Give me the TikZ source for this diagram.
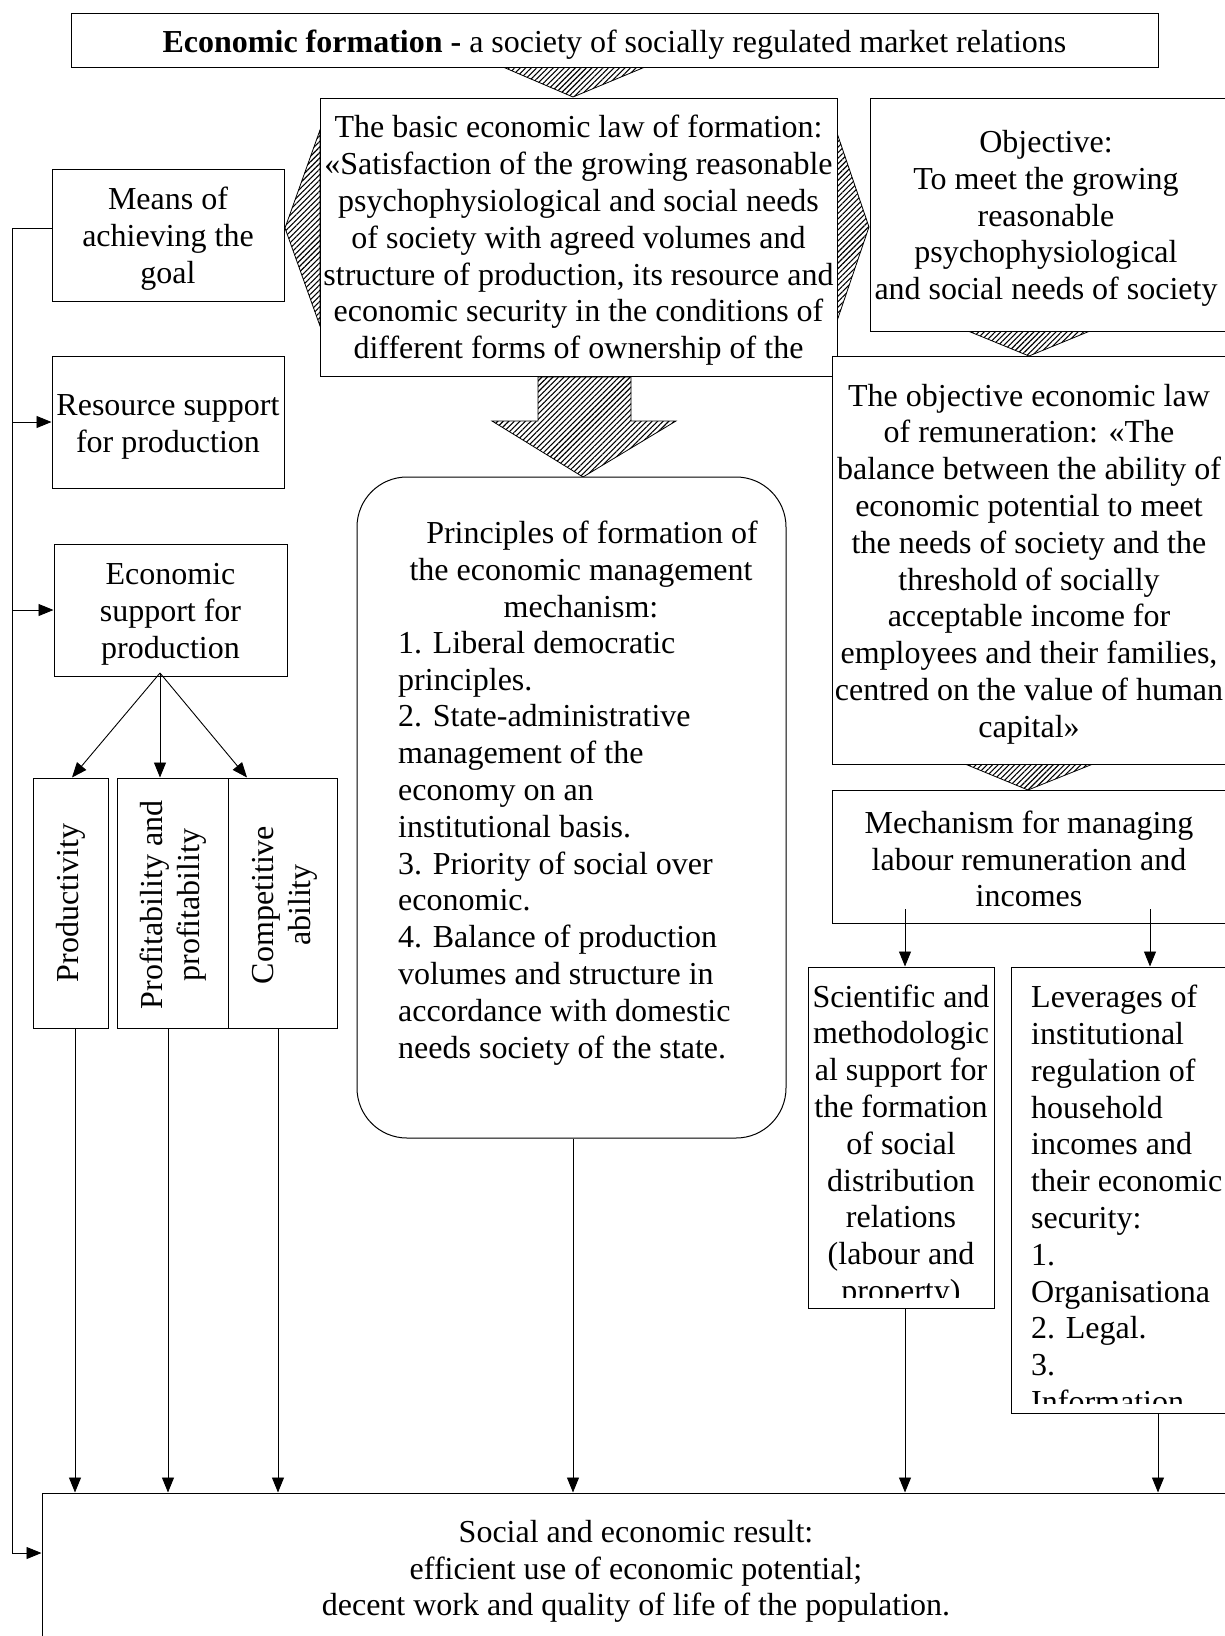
\documentclass[tikz,border=0pt]{standalone}
\usepackage{fontspec}
\setmainfont{Liberation Serif}
\usetikzlibrary{arrows.meta,patterns.meta}
\newcommand\myfs{\fontsize{32}{36.8}\selectfont}
\begin{document}
\begin{tikzpicture}[x=1pt,y=-1pt,
  box/.style={draw=black, line width=1pt, fill=white, inner sep=0pt},
  txt/.style={inner sep=0pt, font=\myfs, align=center},
  hatch/.style={draw=black, line width=0.8pt, pattern={Lines[angle=45,distance=3.9pt,line width=1.1pt]}},
  arr/.style={line width=0.9pt, -{Triangle[length=15pt,width=12pt]}},
  ln/.style={line width=0.9pt}]
\useasboundingbox (0,0) rectangle (1224,1636);
% hatched shapes
\draw[hatch] (503,67) -- (645,67) -- (573,97) -- cycle;
\draw[hatch] (320,130) -- (285,228) -- (320,326) -- cycle;
\draw[hatch] (837,133) -- (869,227) -- (837,321) -- cycle;
\draw[hatch] (538,377) -- (631,377) -- (631,421) -- (676,421) -- (583,477) -- (492,421) -- (538,421) -- cycle;
\draw[hatch] (968,331) -- (1090,331) -- (1029,356) -- cycle;
\draw[hatch] (965,764) -- (1093,764) -- (1028,790) -- cycle;
% boxes
\node[box, minimum width=1087pt, minimum height=54pt] (top) at (614.5,40) {};
\node[txt] (topt) at ([yshift=-5pt]top.center) {\textbf{Economic formation -} a society of socially regulated market relations};
\node[box, minimum width=517pt, minimum height=278pt] (law) at (578.5,237) {};
\node[txt] (lawt) at ([yshift=-3.5pt]law.center) {The basic economic law of formation:\\ «Satisfaction of the growing reasonable\\ psychophysiological and social needs\\ of society with agreed volumes and\\ structure of production, its resource and\\ economic security in the conditions of\\ different forms of ownership of the};
\node[box, minimum width=232pt, minimum height=132pt] (means) at (168,235) {};
\node[txt] (meanst) at ([yshift=-3.5pt]means.center) {Means of\\ achieving the\\ goal};
\node[box, minimum width=232pt, minimum height=132pt] (resource) at (168,422) {};
\node[txt] (resourcet) at ([yshift=-5pt]resource.center) {Resource support\\ for production};
\node[box, minimum width=233pt, minimum height=132pt] (econ) at (170.5,610) {};
\node[txt] (econt) at ([yshift=-4.5pt]econ.center) {Economic\\ support for\\ production};
\node[box, minimum width=75pt, minimum height=250pt] (prod) at (70.5,903) {};
\node[box, minimum width=111pt, minimum height=250pt] (profit) at (172.5,903) {};
\node[box, minimum width=109pt, minimum height=250pt] (compet) at (282.5,903) {};
\node[txt, rotate=90] (prodt) at (70.5,903) {Productivity};
\node[txt, rotate=90] (profitt) at (173.5,905) {Profitability and\\ profitability};
\node[txt, rotate=90] (compett) at (285,905) {Competitive\\ ability};
\node[box, rounded corners=50pt, minimum width=429pt, minimum height=661pt] (princ) at (571.5,807.5) {};
\node[txt] (ph) at (581,569.5) {\hspace*{22pt}Principles of formation of\\ the economic management\\ mechanism:};
\node[txt, align=left, anchor=west] (pl) at (398,848) {1. Liberal democratic\\ principles.\\ 2. State-administrative\\ management of the\\ economy on an\\ institutional basis.\\ 3. Priority of social over\\ economic.\\ 4. Balance of production\\ volumes and structure in\\ accordance with domestic\\ needs society of the state.};
\node[box, minimum width=356pt, minimum height=233pt] (obj) at (1048,214.5) {};
\node[txt] (objt) at (1046,218.5) {Objective:\\ To meet the growing\\ reasonable\\ psychophysiological\\ and social needs of society};
\node[box, minimum width=394pt, minimum height=408pt] (objlaw) at (1029,560) {};
\node[txt] (objlawt) at ([yshift=-4pt]objlaw.center) {The objective economic law\\ of remuneration: «The\\ balance between the ability of\\ economic potential to meet\\ the needs of society and the\\ threshold of socially\\ acceptable income for\\ employees and their families,\\ centred on the value of human\\ capital»};
\node[box, minimum width=394pt, minimum height=133pt] (mech) at (1029,856.5) {};
\node[txt] (mecht) at ([yshift=-2.5pt]mech.center) {Mechanism for managing\\ labour remuneration and\\ incomes};
\node[box, minimum width=186pt, minimum height=341pt] (sci) at (901,1137.5) {};
\node[box, minimum width=219pt, minimum height=446pt] (lev) at (1120.5,1190) {};
\begin{scope}
\clip (808,967) rectangle (994,1297);
\node[txt] (scit) at (901,1146.5) {Scientific and\\ methodologic\\ al support for\\ the formation\\ of social\\ distribution\\ relations\\ (labour and\\ property)};
\end{scope}
\begin{scope}
\clip (1011,967) rectangle (1230,1403);
\node[txt, align=left, anchor=west] (levt) at (1031,1199) {Leverages of\\ institutional\\ regulation of\\ household\\ incomes and\\ their economic\\ security:\\ 1.\\ Organisationa\\ 2. Legal.\\ 3.\\ Information};
\end{scope}
\node[box, minimum width=1188pt, minimum height=147pt] (result) at (636,1566.5) {};
\node[txt] (resultt) at (636,1571.5) {Social and economic result:\\ efficient use of economic potential;\\ decent work and quality of life of the population.};
% connectors
\coordinate (lt) at (12,228);
\coordinate (lb) at (12,1553);
\draw[ln] (lt -| means.west) -- (lt) -- (lb);
\draw[arr] (lb) -- (lb -| result.west);
\draw[arr] (lt |- resource.west) -- (resource.west);
\draw[arr] (lt |- econ.west) -- (econ.west);
\coordinate (es) at (160,673);
\draw[arr] (es) -- ([xshift=1.5pt]prod.north);
\draw[arr] (es) -- ([xshift=-12.5pt]profit.north);
\draw[arr] (es) -- ([xshift=-35.5pt]compet.north);
\coordinate (p1) at ([xshift=4.5pt]prod.south);
\coordinate (p2) at ([xshift=-4.5pt]profit.south);
\coordinate (p3) at ([xshift=-4.5pt]compet.south);
\coordinate (c1) at ([xshift=1.5pt]princ.south);
\coordinate (s1) at ([xshift=4pt]sci.south);
\coordinate (l1) at ([xshift=37.5pt]lev.south);
\foreach \p in {p1,p2,p3,c1,s1,l1} \draw[arr] (\p) -- (\p |- result.north);
\coordinate (m1) at (905,909);
\coordinate (m2) at (1150,909);
\draw[arr] (m1) -- (m1 |- sci.north);
\draw[arr] (m2) -- (m2 |- lev.north);
\end{tikzpicture}
\end{document}
